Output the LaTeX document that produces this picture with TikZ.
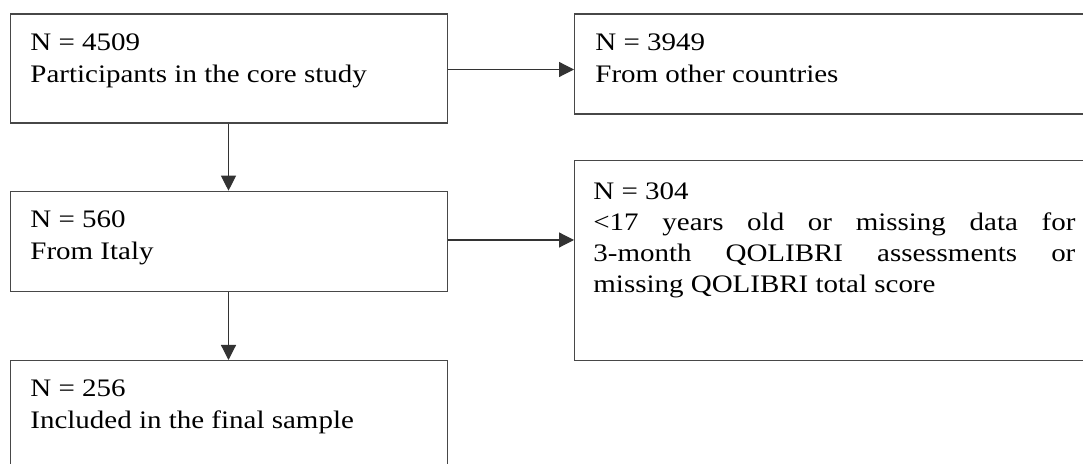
\documentclass[tikz,border=0pt]{standalone}
\usepackage{fontspec}
\setmainfont{Liberation Serif}[FakeStretch=1.15]
\usetikzlibrary{arrows.meta}
\tikzset{
  box/.style={draw=black!72, line width=0.7pt, anchor=north west, inner sep=0pt, rectangle},
  boxtext/.style={anchor=north west, inner sep=0pt, align=left, font=\fontsize{12.6pt}{16pt}\selectfont},
  flow/.style={draw=black!80, line width=0.6pt, -{Triangle[length=7.5pt,width=7.5pt]}}
}
\begin{document}
\begin{tikzpicture}[x=0.5pt,y=-0.5pt]
\useasboundingbox (0,0) rectangle (1083,464);
\clip (0,0) rectangle (1083,464);
% boxes
\node[box, minimum width=218.5pt, minimum height=54.6pt] (A) at (10,13.3) {};
\node[box, minimum width=218.5pt, minimum height=50pt] (B) at (10,190.7) {};
\node[box, minimum width=218.5pt, minimum height=60pt] (C) at (10,360) {};
\node[box, minimum width=265pt, minimum height=50pt] (D) at (574,13.3) {};
\node[box, minimum width=265pt, minimum height=100pt] (E) at (574,160) {};
% texts
\node[boxtext] (tA) at (30,33.3) {N = 4509\\Participants in the core study};
\node[boxtext] (tB) at (30,210) {N = 560\\From Italy};
\node[boxtext] (tC) at (30,379.3) {N = 256\\Included in the final sample};
\node[boxtext] (tD) at (595,33.3) {N = 3949\\From other countries};
\node[boxtext, text width=241pt, align=justify, font=\fontsize{12.6pt}{15.5pt}\selectfont] (tE) at (593,182.3) {N = 304\\
<17 years old or missing data for\linebreak 3-month QOLIBRI assessments or\linebreak missing QOLIBRI total score};
% connectors
\draw[flow] (A.east |- 0,69.5) -- (D.west |- 0,69.5);
\draw[flow] (B.east |- 0,240) -- (E.west |- 0,240);
\draw[flow] (A.south -| 228.5,0) -- (B.north -| 228.5,0);
\draw[flow] (B.south -| 228.5,0) -- (C.north -| 228.5,0);
\end{tikzpicture}
\end{document}
